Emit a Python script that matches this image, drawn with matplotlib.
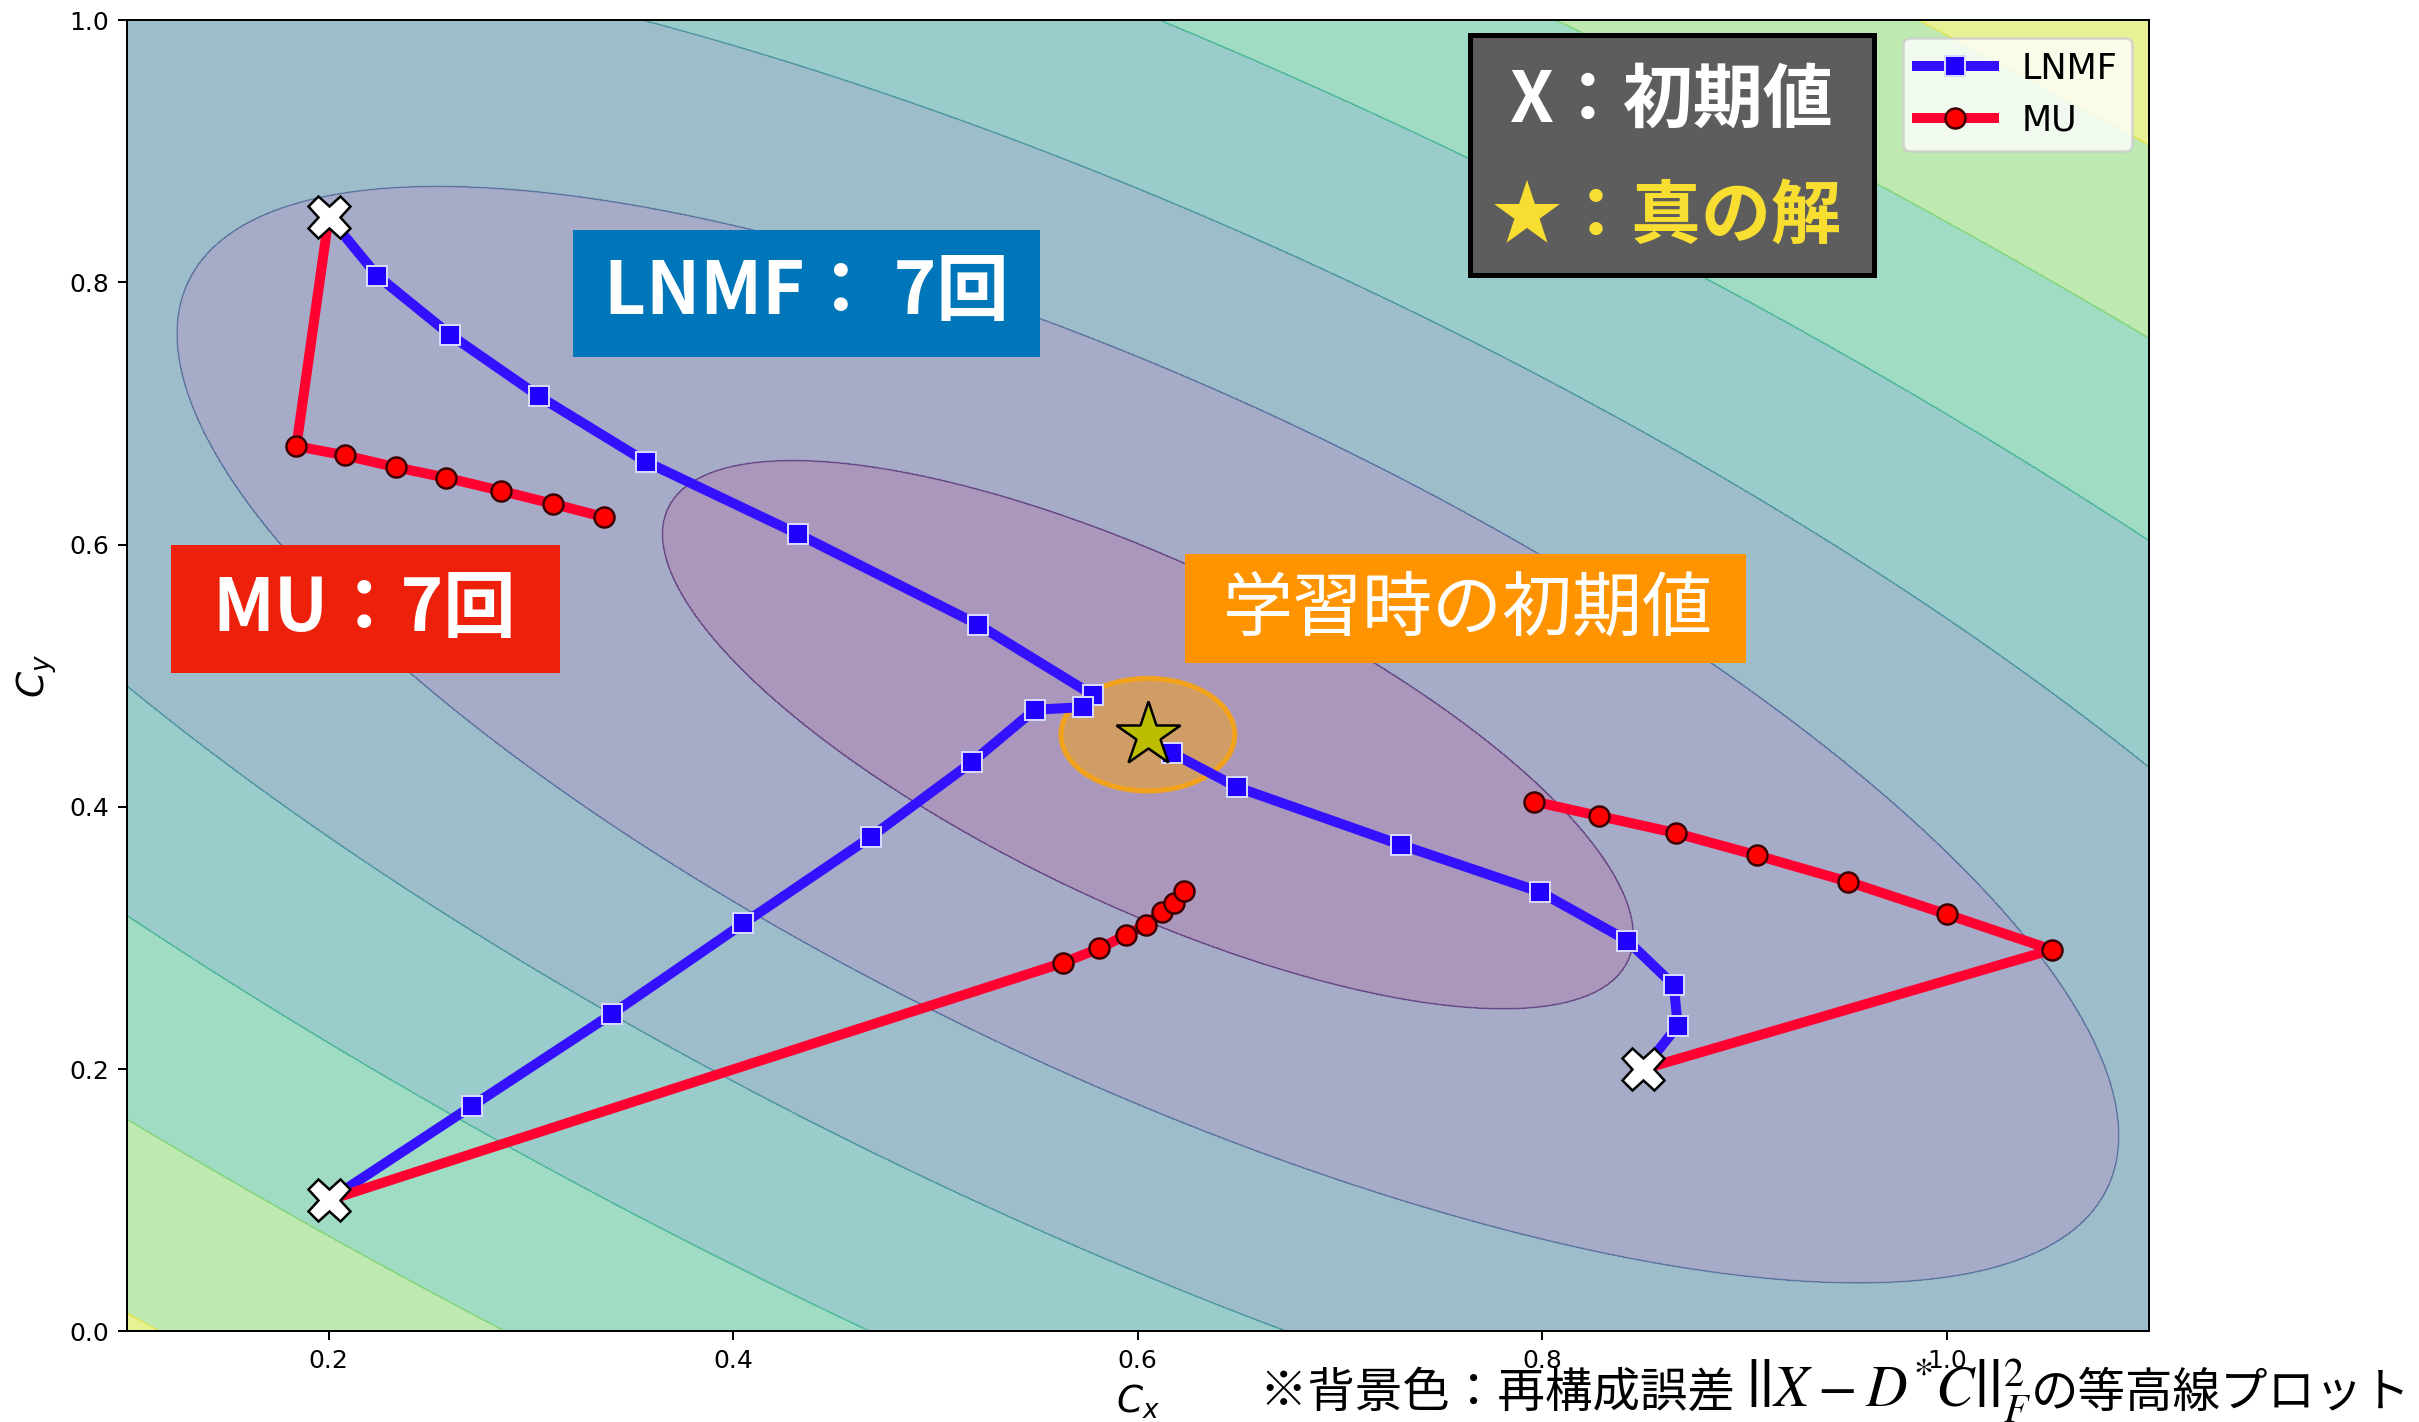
import numpy as np
import matplotlib.pyplot as plt
from matplotlib.patches import Circle, Rectangle

plt.rcParams['font.family'] = ['DejaVu Sans']
JP = ['Noto Sans CJK JP', 'DejaVu Sans']

# true solution C* and gram matrix D^T D of the reconstruction error
c_true = (0.605, 0.455)
gram = np.array([[37.35, 31.37],
                 [31.37, 49.23]])
err_levels = [0.0, 1.0, 2.0, 2.9, 3.85, 4.8, 5.75, 6.7]

# initial values
init_x = [0.20, 0.20, 0.85]
init_y = [0.85, 0.10, 0.20]

# LNMF iterations (start + 7 updates)
lnmf1_x = [0.200, 0.224, 0.260, 0.304, 0.357, 0.432, 0.521, 0.578]
lnmf1_y = [0.850, 0.805, 0.760, 0.713, 0.663, 0.608, 0.539, 0.485]
lnmf2_x = [0.200, 0.271, 0.340, 0.405, 0.468, 0.518, 0.549, 0.573]
lnmf2_y = [0.100, 0.172, 0.242, 0.311, 0.377, 0.434, 0.474, 0.476]
lnmf3_x = [0.850, 0.867, 0.865, 0.842, 0.799, 0.730, 0.649, 0.617]
lnmf3_y = [0.200, 0.233, 0.264, 0.298, 0.335, 0.371, 0.415, 0.441]

# MU iterations (start + 7 updates)
mu1_x = [0.200, 0.184, 0.208, 0.233, 0.258, 0.285, 0.311, 0.336]
mu1_y = [0.850, 0.675, 0.668, 0.659, 0.651, 0.641, 0.631, 0.621]
mu2_x = [0.200, 0.563, 0.581, 0.594, 0.604, 0.612, 0.618, 0.623]
mu2_y = [0.100, 0.281, 0.292, 0.302, 0.310, 0.320, 0.327, 0.336]
mu3_x = [0.850, 1.052, 1.000, 0.951, 0.906, 0.866, 0.828, 0.796]
mu3_y = [0.200, 0.291, 0.318, 0.343, 0.363, 0.380, 0.393, 0.404]

lnmf_paths = [(lnmf1_x, lnmf1_y), (lnmf2_x, lnmf2_y), (lnmf3_x, lnmf3_y)]
mu_paths = [(mu1_x, mu1_y), (mu2_x, mu2_y), (mu3_x, mu3_y)]

fig = plt.figure(figsize=(2419 / 180, 1422 / 180), dpi=180)
ax = fig.add_axes([0.0523, 0.0638, 0.8361, 0.9221])

# error surface ||X - D*C||
gx = np.linspace(0.1, 1.1, 300)
gy = np.linspace(0.0, 1.0, 300)
GX, GY = np.meshgrid(gx, gy)
dx = GX - c_true[0]
dy = GY - c_true[1]
err = np.sqrt(gram[0, 0] * dx**2 + 2 * gram[0, 1] * dx * dy + gram[1, 1] * dy**2)
ax.contourf(GX, GY, err, levels=err_levels, cmap='viridis', alpha=0.46)
ax.contour(GX, GY, err, levels=err_levels[1:-1], cmap='viridis',
           linewidths=0.7, alpha=0.35)

# starting point used for training
ax.add_patch(Circle(c_true, 0.043, fc='orange', alpha=0.45, ec='none', zorder=2))
ax.add_patch(Circle(c_true, 0.043, fc='none', ec='orange', lw=2, alpha=0.8, zorder=2))

for i, (px, py) in enumerate(lnmf_paths):
    ax.plot(px, py, color='#3311ff', lw=4, marker='s', ms=8,
            mfc='#2200ff', mec='#d8d8ff', mew=0.8,
            label='LNMF' if i == 0 else None, zorder=3)
for i, (px, py) in enumerate(mu_paths):
    ax.plot(px, py, color='#ff0030', lw=4, marker='o', ms=8,
            mfc='red', mec='#3a0000', mew=1.0,
            label='MU' if i == 0 else None, zorder=3)

ax.plot(init_x, init_y, ls='none', marker='X', ms=17, mfc='white',
        mec='black', mew=1.0, zorder=5)
ax.plot([c_true[0]], [c_true[1]], ls='none', marker='*', ms=27,
        mfc='#bcbc00', mec='black', mew=1.0, zorder=6)

ax.set_xlim(0.1, 1.1)
ax.set_ylim(0.0, 1.0)
ax.set_xlabel('$C_x$', fontsize=15)
ax.set_ylabel('$C_y$', fontsize=15)
ax.legend(loc='upper right', fontsize=14, handlelength=2.2)

# annotation boxes
def note_box(x0, y0, w, h, fc, ec='none', lw=0):
    fig.add_artist(Rectangle((x0, y0), w, h, transform=fig.transFigure,
                             fc=fc, ec=ec, lw=lw, zorder=4))

note_box(0.2370, 0.7487, 0.1929, 0.0895, '#0076ba')
fig.text(0.3334, 0.7940, 'LNMF： 7回', family=JP, fontsize=29, weight='bold',
         color='white', ha='center', va='center', zorder=5)

note_box(0.0707, 0.5269, 0.1608, 0.0898, '#ed200c')
fig.text(0.1507, 0.5710, 'MU：7回', family=JP, fontsize=29, weight='bold',
         color='white', ha='center', va='center', zorder=5)

note_box(0.4899, 0.5338, 0.2319, 0.0767, '#ff9400')
fig.text(0.6066, 0.5710, '学習時の初期値', family=JP, fontsize=28,
         color='white', ha='center', va='center', zorder=5)

note_box(0.6077, 0.8066, 0.1670, 0.1688, '#5d5d5d', ec='black', lw=2)
fig.text(0.6912, 0.9286, 'X：初期値', family=JP, fontsize=28, weight='bold',
         color='white', ha='center', va='center', zorder=5)
fig.text(0.6889, 0.8474, '★：真の解', family=JP, fontsize=28, weight='bold',
         color='#f8de30', ha='center', va='center', zorder=5)

# footnote: japanese text with the error norm set in a serif face
renderer = fig.canvas.get_renderer()
base_y = 0.0105
x_pos = 0.5209
parts = [('※背景色：再構成誤差 ', dict(family=JP, fontsize=19)),
         (r'$\left|\left|X - D^{*}C\right|\right|_F^2$',
          dict(math_fontfamily='stix', fontsize=23)),
         ('の等高線プロット', dict(family=JP, fontsize=19))]
for s, kw in parts:
    t = fig.text(x_pos, base_y, s, va='baseline', zorder=5, **kw)
    x_pos = t.get_window_extent(renderer).x1 / fig.bbox.width

fig.savefig('out.png', dpi=180)
